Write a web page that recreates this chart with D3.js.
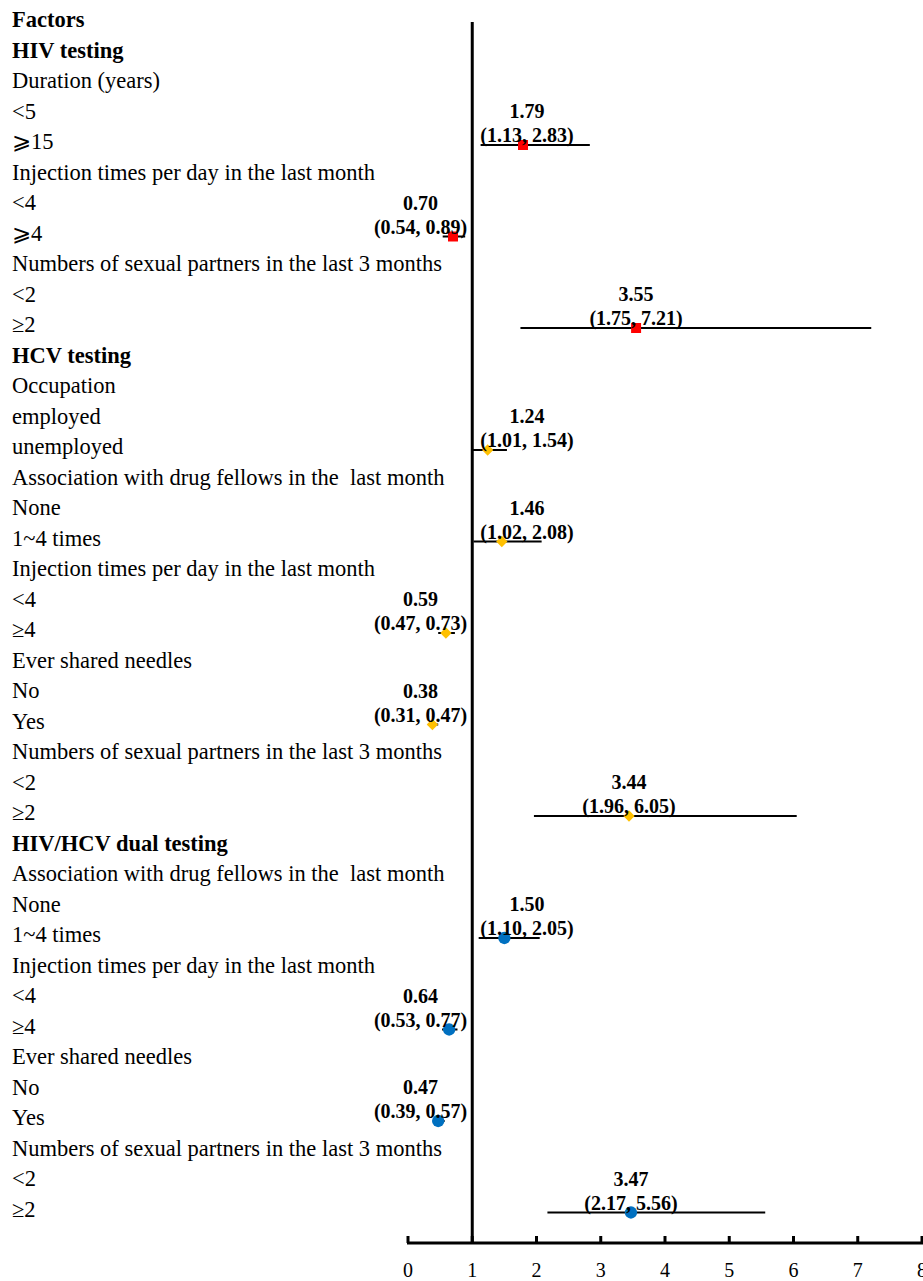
<!DOCTYPE html>
<html>
<head>
<meta charset="utf-8">
<script src="https://cdn.jsdelivr.net/npm/d3@7"></script>
<style>
  body { margin: 0; background: #fff; }
  text { font-family: "Liberation Serif", "Times New Roman", serif; white-space: pre; }
</style>
</head>
<body>
<div id="plot-container"></div>
<script>
// Row labels, top to bottom
const rowLabels = [
  "Factors", "HIV testing", "Duration (years)", "<5", "\u2A7E15",
  "Injection times per day in the last month", "<4", "\u2A7E4",
  "Numbers of sexual partners in the last 3 months", "<2", "\u22652",
  "HCV testing", "Occupation", "employed", "unemployed",
  "Association with drug fellows in the  last month", "None", "1~4 times",
  "Injection times per day in the last month", "<4", "\u22654",
  "Ever shared needles", "No", "Yes",
  "Numbers of sexual partners in the last 3 months", "<2", "\u22652",
  "HIV/HCV dual testing",
  "Association with drug fellows in the  last month", "None", "1~4 times",
  "Injection times per day in the last month", "<4", "\u22654",
  "Ever shared needles", "No", "Yes",
  "Numbers of sexual partners in the last 3 months", "<2", "\u22652"
];
const boldRows = [0, 1, 11, 27];

// Estimates (odds ratios with 95% CI)
const estRows   = [4, 7, 10, 14, 17, 20, 23, 26, 30, 33, 36, 39];
const estimates = [1.79, 0.70, 3.55, 1.24, 1.46, 0.59, 0.38, 3.44, 1.50, 0.64, 0.47, 3.47];
const lower     = [1.13, 0.54, 1.75, 1.01, 1.02, 0.47, 0.31, 1.96, 1.10, 0.53, 0.39, 2.17];
const upper     = [2.83, 0.89, 7.21, 1.54, 2.08, 0.73, 0.47, 6.05, 2.05, 0.77, 0.57, 5.56];
const groups    = ["HIV", "HIV", "HIV", "HCV", "HCV", "HCV", "HCV", "HCV", "dual", "dual", "dual", "dual"];

const xTicks = [0, 1, 2, 3, 4, 5, 6, 7, 8];

const data = estRows.map((r, i) => ({
  row: r, est: estimates[i], lo: lower[i], hi: upper[i], group: groups[i]
}));

const W = 923, H = 1281;
const svg = d3.select("#plot-container")
  .append("svg")
  .attr("width", W)
  .attr("height", H);

const x = d3.scaleLinear().domain([0, 8]).range([408, 922]);
const y = d3.scaleLinear().domain([0, 39]).range([27, 27 + 39 * 30.5]);
const axisY = 1243;

// Left labels
svg.selectAll(".row-label")
  .data(rowLabels)
  .enter().append("text")
  .attr("class", "row-label")
  .attr("x", 12)
  .attr("y", (d, i) => y(i))
  .attr("font-size", "22.5px")
  .attr("font-weight", (d, i) => boldRows.includes(i) ? "bold" : "normal")
  .attr("fill", "#000")
  .text(d => d);

// Reference line at OR = 1
svg.append("line")
  .attr("x1", x(1)).attr("x2", x(1))
  .attr("y1", 22).attr("y2", axisY)
  .attr("stroke", "#000")
  .attr("stroke-width", 3);

// X axis
svg.append("line")
  .attr("x1", x(0) - 1).attr("x2", x(8) + 1)
  .attr("y1", axisY).attr("y2", axisY)
  .attr("stroke", "#000")
  .attr("stroke-width", 3);

svg.selectAll(".tick-mark")
  .data(xTicks)
  .enter().append("line")
  .attr("x1", d => x(d)).attr("x2", d => x(d))
  .attr("y1", axisY).attr("y2", axisY - 7)
  .attr("stroke", "#000")
  .attr("stroke-width", 3);

// the last label ("8") sits at the right edge, cut off as in the original
svg.selectAll(".tick-label")
  .data(xTicks)
  .enter().append("text")
  .attr("x", d => x(d))
  .attr("y", 1277)
  .attr("text-anchor", "middle")
  .attr("font-size", "20px")
  .text(d => d);

// CI lines
const markY = d => y(d.row) - 4;

svg.selectAll(".ci")
  .data(data)
  .enter().append("line")
  .attr("x1", d => x(d.lo)).attr("x2", d => x(d.hi))
  .attr("y1", markY).attr("y2", markY)
  .attr("stroke", "#000")
  .attr("stroke-width", 2);

// Markers
const colors = { HIV: "#ff0000", HCV: "#ffc000", dual: "#0070c0" };
const symbols = { HIV: d3.symbolSquare, HCV: d3.symbolSquare, dual: d3.symbolCircle };
const sizes = { HIV: 100, HCV: 64, dual: 120 };
const rotate = { HIV: 0, HCV: 45, dual: 0 };

svg.selectAll(".marker")
  .data(data)
  .enter().append("path")
  .attr("transform", d => "translate(" + x(d.est) + "," + markY(d) + ") rotate(" + rotate[d.group] + ")")
  .attr("d", d => d3.symbol().type(symbols[d.group]).size(sizes[d.group])())
  .attr("fill", d => colors[d.group]);

// Value labels
const labels = svg.selectAll(".val")
  .data(data)
  .enter().append("g");

labels.append("text")
  .attr("class", "ci-text")
  .attr("y", d => markY(d) - 3)
  .attr("text-anchor", "middle")
  .attr("font-size", "20px")
  .attr("font-weight", "bold")
  .text(d => "(" + d.lo.toFixed(2) + ", " + d.hi.toFixed(2) + ")");

labels.append("text")
  .attr("class", "est-text")
  .attr("y", d => markY(d) - 27)
  .attr("text-anchor", "middle")
  .attr("font-size", "20px")
  .attr("font-weight", "bold")
  .text(d => d.est.toFixed(2));

// Keep labels clear of the reference line
labels.each(function(d) {
  const g = d3.select(this);
  const w = g.select(".ci-text").node().getComputedTextLength();
  let cx = x(d.est);
  if (d.est > 1) cx = Math.max(cx, x(1) + 8 + w / 2);
  else cx = Math.min(cx, x(1) - 5 - w / 2);
  g.selectAll("text").attr("x", cx);
});
</script>
</body>
</html>
